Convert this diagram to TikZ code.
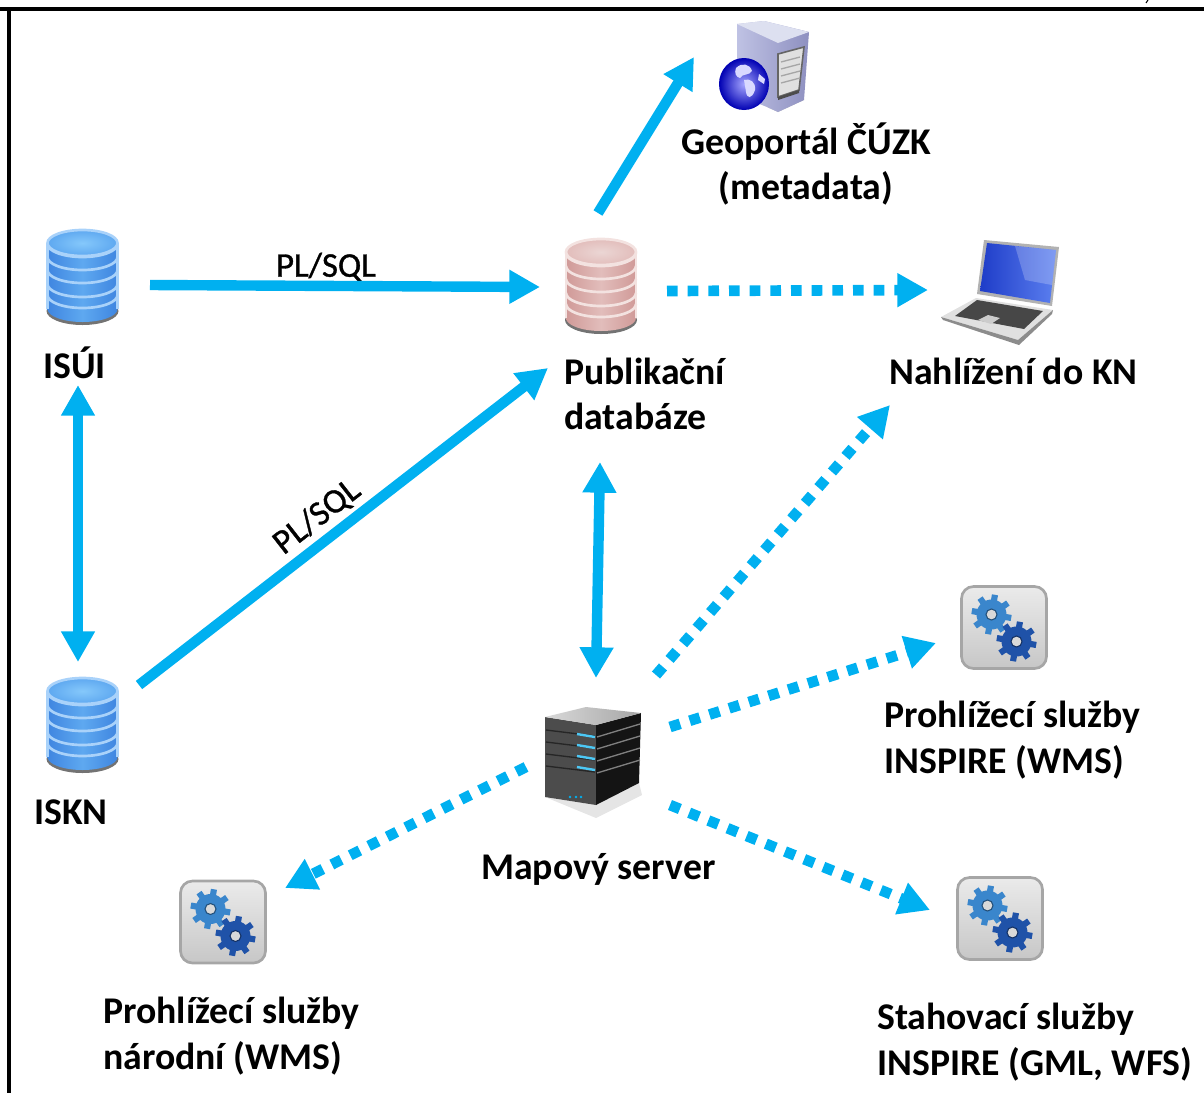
\documentclass[tikz,border=0pt]{standalone}
\usepackage{fontspec}
\setmainfont{Carlito}
\usetikzlibrary{arrows.meta}
\definecolor{arrowblue}{HTML}{00B0F0}
\definecolor{dbblueedge}{HTML}{3F86E0}
\definecolor{dbbluemid}{HTML}{5EA8F0}
\definecolor{dbbluerim}{HTML}{A9D2FA}
\definecolor{dbbluetop}{HTML}{85C8FB}
\definecolor{dbpinkedge}{HTML}{D09A98}
\definecolor{dbpinkmid}{HTML}{E2BDBB}
\definecolor{dbpinkrim}{HTML}{F3E2E0}
\definecolor{dbpinktop}{HTML}{EBD6D4}
\definecolor{gearlight}{HTML}{3A86CC}
\definecolor{geardark}{HTML}{1F52A8}
\definecolor{towerleft}{HTML}{BFC2E4}
\definecolor{towerright}{HTML}{8E90C0}
\definecolor{towertop}{HTML}{DDE0F0}
\definecolor{screendeep}{HTML}{1E3CC8}
\definecolor{screenpale}{HTML}{5C80F0}
\tikzset{
  arrowbase/.style={line width=7.8pt,arrowblue},
  solidone/.style={arrowbase,-{Triangle[length=23pt,width=24pt]}},
  solidtwo/.style={arrowbase,{Triangle[length=23pt,width=24pt]}-{Triangle[length=23pt,width=24pt]}},
  dotone/.style={solidone,line width=8pt,dash pattern=on 8pt off 7.5pt},
  labeltext/.style={font=\fontsize{28.3pt}{34pt}\selectfont\bfseries,align=left,inner sep=0pt,anchor=west},
  edgetext/.style={font=\fontsize{26pt}{30pt}\selectfont\addfontfeature{FakeBold=1},inner sep=0pt},
  pics/dbicon/.style n args={4}{code={
    \fill[black!55] (0,82) ellipse [x radius=36,y radius=14];
    \path[left color=#1,right color=#1,middle color=#2]
      (-35,14) -- (-35,80) arc [start angle=180,end angle=0,x radius=35,y radius=13]
      -- (35,14) arc [start angle=0,end angle=180,x radius=35,y radius=13];
    \foreach \yy in {15,28,41,55,66}
      \draw[#3,line width=2pt] (-35,\yy) arc [start angle=180,end angle=0,x radius=35,y radius=13];
    \draw[#3,line width=2pt] (-35,14) -- (-35,80) (35,14) -- (35,80);
    \draw[#3,line width=2pt,inner color=#4,outer color=#2] (0,14) ellipse [x radius=35,y radius=13];
  }},
  pics/gearwheel/.style 2 args={code={
    \foreach \ang in {0,45,...,315}
      \draw[#1,line width=4.6pt] (\ang+10:11) -- (\ang+10:20);
    \fill[#1] (0,0) circle [radius=15];
    \fill[white!85!black] (0,0) circle [radius=5.5];
    \draw[#2,line width=0.8pt] (0,0) circle [radius=5.5];
  }},
  pics/gearbox/.style={code={
    \draw[black!35,line width=2pt,rounded corners=9pt,top color=white!92!black,bottom color=white!78!black]
      (0,0) rectangle (85,82);
    \pic at (30,28) {gearwheel={gearlight}{gearlight!60!black}};
    \pic at (55,55) {gearwheel={geardark}{geardark!60!black}};
  }}
}
\begin{document}
\begin{tikzpicture}[x=0.75pt,y=-0.75pt]
\useasboundingbox (0,0) rectangle (1204,1093);
%% frame
\fill[black] (0,7) rectangle (1204,11);
\fill[black] (7,7) rectangle (10.5,1093);
\draw[black,line width=0.8pt] (1148,0) -- (1146,3);
%% database and gear icons
\pic at (82.5,229) {dbicon={dbblueedge}{dbbluemid}{dbbluerim}{dbbluetop}};
\pic at (82.5,677) {dbicon={dbblueedge}{dbbluemid}{dbbluerim}{dbbluetop}};
\pic at (601,238) {dbicon={dbpinkedge}{dbpinkmid}{dbpinkrim}{dbpinktop}};
\pic at (961.5,586.5) {gearbox};
\pic at (957.5,877.5) {gearbox};
\pic at (180.5,881) {gearbox};
%% geoportal tower with globe
\fill[black!25] (767,107) -- (778,112) -- (804,100) -- (790,98) -- cycle;
\path[left color=towerleft,right color=towerright]
  (737,24) -- (764,21) -- (809,32) -- (804,100) -- (778,112) -- (767,107) -- (737,95) -- cycle;
\fill[towertop] (737,24) -- (764,21) -- (809,32) -- (778,43) -- cycle;
\draw[black!60,line width=1.2pt,fill=black!12] (778,54) -- (804,47) -- (799,90) -- (778,97) -- cycle;
\foreach \yy in {62,69,76,83}
  \draw[black!35,line width=1pt] (781,\yy) -- (800,\yy-5);
\fill[black!70] (778,97) -- (799,90) -- (799,93) -- (778,100) -- cycle;
\shade[inner color=blue!35!white,outer color=blue!70!black] (744,84) ellipse [x radius=25,y radius=26];
\fill[white!85!blue] (736,68) .. controls (742,62) and (750,64) .. (752,71) .. controls (749,76) and (743,73) .. (740,78) .. controls (736,77) and (734,73) .. (736,68) -- cycle;
\fill[white!85!blue] (744,80) .. controls (750,78) and (756,82) .. (755,90) .. controls (752,99) and (747,99) .. (746,92) -- cycle;
\fill[white!85!blue] (759,74) -- (765,79) -- (764,84) -- (758,80) -- cycle;
%% laptop
\fill[black!12] (941,317) -- (976,298) -- (1053,310) -- (1018,340) -- cycle;
\fill[black!45] (943,320) -- (941,317) -- (1018,340) -- (1053,310) -- (1052,314) -- (1019,345) -- cycle;
\fill[black!72] (955,316) -- (977,300) -- (1043,311) -- (1024,329) -- cycle;
\fill[black!20] (978,320) -- (988,315) -- (1000,318) -- (991,324) -- cycle;
\fill[black!30] (984,240) -- (1059,247) -- (1052,306) -- (977,294) -- cycle;
\path[left color=screendeep,right color=screenpale] (987,243) -- (1056,250) -- (1050,303) -- (980,291) -- cycle;
\fill[white,opacity=0.22] (1015,246) -- (1056,250) -- (1052,285) -- (1025,280) -- cycle;
%% map server
\fill[black!10] (545,797) -- (596,818) -- (642,795) -- (639,783) -- (596,805) -- cycle;
\fill[black!70] (545,717) -- (596,725) -- (596,805) -- (545,797) -- cycle;
\fill[black!92] (596,725) -- (641,713) -- (639,783) -- (596,805) -- cycle;
\path[left color=black!15,right color=black!35] (545,717) -- (586,707) -- (641,713) -- (596,725) -- cycle;
\foreach \yy in {0,1,2,3} {
  \draw[black!85,line width=1pt] (546,730+\yy*12) -- (595,736+\yy*12);
  \draw[black!50,line width=1pt] (597,737+\yy*12) -- (640,724+\yy*12);
  \draw[arrowblue!70!white,line width=1.8pt] (577,734+\yy*11) -- (595,737+\yy*11);
}
\foreach \xx in {570,576,581}
  \fill[arrowblue] (\xx,797) circle [radius=1.3];
%% labels
\foreach \nodename/\x/\y/\labeltxt in {
  isuilabel/43/363/{ISÚI},
  isknlabel/34/812/{ISKN},
  publabel/564/394/{Publikační\\databáze},
  naledlabel/889/371/{Nahlížení do KN},
  wmsilabel/884/740/{Prohlížecí služby\\INSPIRE (WMS)},
  maplabel/481/869/{Mapový server},
  wmsnlabel/103/1036/{Prohlížecí služby\\národní (WMS)},
  dllabel/877/1042/{Stahovací služby\\INSPIRE (GML, WFS)}}
{
  \node[labeltext] (\nodename) at (\x,\y) {\labeltxt};
}
\node[labeltext,anchor=center,align=center] (geolabel) at (806,164) {Geoportál ČÚZK\\(metadata)};
\node[edgetext] (sqltop) at (326,267) {PL/SQL};
\node[edgetext,rotate=38] (sqldiag) at (317,517) {PL/SQL};
%% connector ends
\foreach \nodename/\x/\y in {
  isuiout/150/285, pubinw/540/287, isuisouth/78/385, isknnorth/78/662,
  isknout/139/685, pubinsw/548/368, pubsouth/600/462, mapnorth/596/678,
  pubnorth/598/213, geoin/694/57, pubeast/667/291, naledin/928/290,
  mapne/656/675, naledsw/890/405, mapeast/670/727, wmsiin/936/643,
  mapse/670/805, dlin/930/910, mapwest/526/767, wmsnin/285/888}
{
  \coordinate (\nodename) at (\x,\y);
}
%% arrows
\foreach \startnode/\endnode/\arrowkind in {
  isuiout/pubinw/solidone, isknout/pubinsw/solidone, pubnorth/geoin/solidone,
  isuisouth/isknnorth/solidtwo, pubsouth/mapnorth/solidtwo,
  pubeast/naledin/dotone, mapne/naledsw/dotone, mapeast/wmsiin/dotone,
  mapse/dlin/dotone, mapwest/wmsnin/dotone}
{
  \draw[\arrowkind] (\startnode) -- (\endnode);
}
\end{tikzpicture}
\end{document}
